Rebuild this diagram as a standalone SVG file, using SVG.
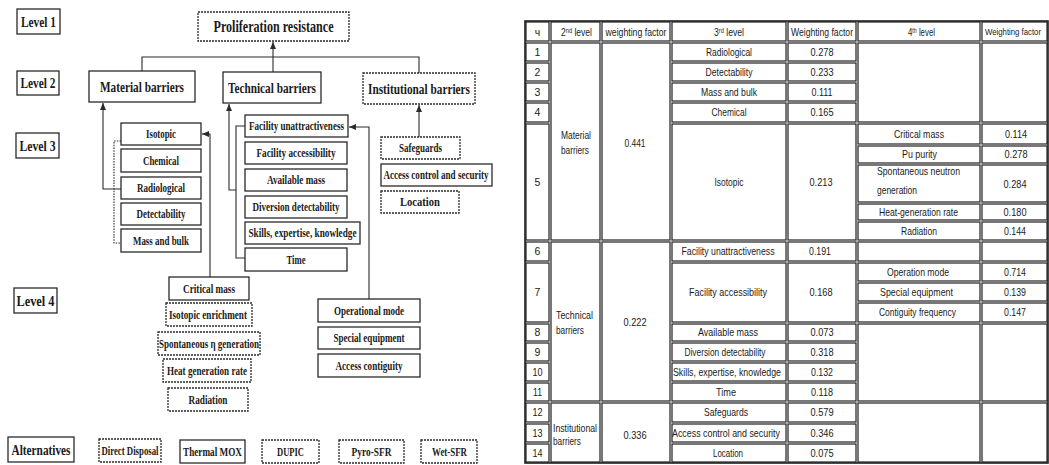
<svg xmlns="http://www.w3.org/2000/svg" width="1049" height="465" viewBox="0 0 1049 465">
<style>
.bx{fill:#fff;stroke:#2a2a2a;stroke-width:1.3}
.dt{stroke-dasharray:2 1}
.t{font-family:"Liberation Serif","Times New Roman",serif;font-weight:bold;fill:#1a1a1a;text-anchor:middle}
.lv{font-size:14px}
.l2{font-size:14.5px}
.l3{font-size:12px}
.cn{fill:none;stroke:#2a2a2a;stroke-width:1.1}
.cd{stroke-dasharray:1.5 1.2}
.tc{fill:none;stroke:#1e1e1e;stroke-width:1.2}
.ts{font-family:"Liberation Sans",Arial,sans-serif;font-size:10.5px;fill:#1a1a1a;text-anchor:middle}
.tl{text-anchor:start}
</style>
<defs>
<marker id="ah" markerUnits="userSpaceOnUse" markerWidth="7" markerHeight="6" refX="7" refY="3" orient="auto">
<path d="M0,0 L7,3 L0,6 z" fill="#2a2a2a"/>
</marker>
</defs>
<rect width="1049" height="465" fill="#fff"/>

<!-- Level labels -->
<g id="level1"><rect class="bx" x="17" y="9" width="43" height="25"/><text class="t lv" x="38.5" y="26.5" textLength="35" lengthAdjust="spacingAndGlyphs">Level 1</text></g>
<g id="level2"><rect class="bx" x="17" y="71" width="42" height="24"/><text class="t lv" x="38" y="88" textLength="35" lengthAdjust="spacingAndGlyphs">Level 2</text></g>
<g id="level3"><rect class="bx" x="16" y="133" width="43" height="25"/><text class="t lv" x="37.5" y="150.5" textLength="36" lengthAdjust="spacingAndGlyphs">Level 3</text></g>
<g id="level4"><rect class="bx" x="14" y="288" width="43" height="25"/><text class="t lv" x="35.5" y="305.5" textLength="38" lengthAdjust="spacingAndGlyphs">Level 4</text></g>
<g id="alternatives"><rect class="bx" x="8" y="437" width="66" height="25"/><text class="t lv" x="41" y="454.5" textLength="59" lengthAdjust="spacingAndGlyphs">Alternatives</text></g>

<!-- Level 1/2 -->
<g id="proliferation-resistance"><rect class="bx dt" x="198" y="12" width="151" height="29"/><text class="t" style="font-size:16px" x="273.5" y="32" textLength="120" lengthAdjust="spacingAndGlyphs">Proliferation resistance</text></g>
<g id="material-barriers"><rect class="bx" x="89" y="71" width="106" height="31"/><text class="t l2" x="142" y="91.5" textLength="84" lengthAdjust="spacingAndGlyphs">Material barriers</text></g>
<g id="technical-barriers"><rect class="bx" x="223" y="72" width="98" height="31"/><text class="t l2" x="272" y="92.5" textLength="88" lengthAdjust="spacingAndGlyphs">Technical barriers</text></g>
<g id="institutional-barriers"><rect class="bx dt" x="363" y="73" width="112" height="31"/><text class="t l2" x="419" y="93.5" textLength="102" lengthAdjust="spacingAndGlyphs">Institutional barriers</text></g>

<!-- Level 3 material -->
<g id="isotopic"><rect class="bx" x="121" y="123" width="80" height="22"/><text class="t l3" x="161" y="138.2" textLength="30" lengthAdjust="spacingAndGlyphs">Isotopic</text></g>
<g id="chemical"><rect class="bx" x="121" y="149" width="80" height="23"/><text class="t l3" x="161" y="164.7" textLength="36" lengthAdjust="spacingAndGlyphs">Chemical</text></g>
<g id="radiological"><rect class="bx" x="121" y="177" width="80" height="22"/><text class="t l3" x="161" y="192.2" textLength="48" lengthAdjust="spacingAndGlyphs">Radiological</text></g>
<g id="detectability"><rect class="bx" x="121" y="203" width="80" height="22"/><text class="t l3" x="161" y="218.2" textLength="49" lengthAdjust="spacingAndGlyphs">Detectability</text></g>
<g id="mass-and-bulk"><rect class="bx" x="121" y="229" width="80" height="23"/><text class="t l3" x="161" y="244.7" textLength="56" lengthAdjust="spacingAndGlyphs">Mass and bulk</text></g>

<!-- Level 3 technical -->
<g id="facility-unattractiveness"><rect class="bx" x="245" y="115" width="103" height="22"/><text class="t l3" x="296.5" y="130.2" textLength="95" lengthAdjust="spacingAndGlyphs">Facility unattractiveness</text></g>
<g id="facility-accessibility"><rect class="bx" x="245" y="142" width="102" height="22"/><text class="t l3" x="296" y="157.2" textLength="79" lengthAdjust="spacingAndGlyphs">Facility accessibility</text></g>
<g id="available-mass"><rect class="bx" x="245" y="169" width="102" height="22"/><text class="t l3" x="296" y="184.2" textLength="58" lengthAdjust="spacingAndGlyphs">Available mass</text></g>
<g id="diversion-detectability"><rect class="bx" x="245" y="196" width="102" height="22"/><text class="t l3" x="296" y="211.2" textLength="87" lengthAdjust="spacingAndGlyphs">Diversion detectability</text></g>
<g id="skills"><rect class="bx" x="245" y="222" width="115" height="22"/><text class="t l3" x="302.5" y="237.2" textLength="108" lengthAdjust="spacingAndGlyphs">Skills, expertise, knowledge</text></g>
<g id="time"><rect class="bx" x="245" y="248" width="102" height="23"/><text class="t l3" x="296" y="263.7" textLength="19" lengthAdjust="spacingAndGlyphs">Time</text></g>

<!-- Level 3 institutional -->
<g id="safeguards"><rect class="bx dt" x="381" y="137" width="79" height="22"/><text class="t l3" x="420.5" y="152.2" textLength="43" lengthAdjust="spacingAndGlyphs">Safeguards</text></g>
<g id="access-control"><rect class="bx" x="381" y="164" width="111" height="22"/><text class="t l3" x="436" y="179.2" textLength="105" lengthAdjust="spacingAndGlyphs">Access control and security</text></g>
<g id="location"><rect class="bx dt" x="381" y="191" width="78" height="22"/><text class="t l3" x="420" y="206.2" textLength="40" lengthAdjust="spacingAndGlyphs">Location</text></g>

<!-- Level 4 material -->
<g id="critical-mass"><rect class="bx" x="169" y="277" width="80" height="23"/><text class="t l3" x="209" y="292.7" textLength="52" lengthAdjust="spacingAndGlyphs">Critical mass</text></g>
<g id="isotopic-enrichment"><rect class="bx dt" x="166" y="303" width="86" height="23"/><text class="t l3" x="208" y="318.7" textLength="78" lengthAdjust="spacingAndGlyphs">Isotopic enrichment</text></g>
<g id="spontaneous-generation"><rect class="bx dt" x="158" y="332" width="102" height="23"/><text class="t l3" x="209" y="347.7" textLength="100" lengthAdjust="spacingAndGlyphs">Spontaneous η generation</text></g>
<g id="heat-generation-rate"><rect class="bx dt" x="163" y="359" width="88" height="23"/><text class="t l3" x="207" y="374.7" textLength="80" lengthAdjust="spacingAndGlyphs">Heat generation rate</text></g>
<g id="radiation"><rect class="bx dt" x="168" y="388" width="80" height="23"/><text class="t l3" x="208" y="403.7" textLength="39" lengthAdjust="spacingAndGlyphs">Radiation</text></g>

<!-- Level 4 technical -->
<g id="operational-mode"><rect class="bx" x="318" y="299" width="102" height="23"/><text class="t l3" x="369" y="314.7" textLength="70" lengthAdjust="spacingAndGlyphs">Operational mode</text></g>
<g id="special-equipment"><rect class="bx" x="318" y="327" width="102" height="22"/><text class="t l3" x="369" y="342.2" textLength="71" lengthAdjust="spacingAndGlyphs">Special equipment</text></g>
<g id="access-contiguity"><rect class="bx" x="318" y="354" width="102" height="23"/><text class="t l3" x="369" y="369.7" textLength="67" lengthAdjust="spacingAndGlyphs">Access contiguity</text></g>

<!-- Alternatives -->
<g id="direct-disposal"><rect class="bx dt" x="99" y="439" width="62" height="23"/><text class="t l3" x="130" y="454.7" textLength="57" lengthAdjust="spacingAndGlyphs">Direct Disposal</text></g>
<g id="thermal-mox"><rect class="bx" x="180" y="440" width="65" height="23"/><text class="t l3" x="212.5" y="455.7" textLength="59" lengthAdjust="spacingAndGlyphs">Thermal MOX</text></g>
<g id="dupic"><rect class="bx dt" x="262" y="440" width="57" height="23"/><text class="t l3" x="290.5" y="455.7" textLength="27" lengthAdjust="spacingAndGlyphs">DUPIC</text></g>
<g id="pyro-sfr"><rect class="bx dt" x="339" y="440" width="65" height="23"/><text class="t l3" x="371.5" y="455.7" textLength="40" lengthAdjust="spacingAndGlyphs">Pyro-SFR</text></g>
<g id="wet-sfr"><rect class="bx dt" x="421" y="440" width="56" height="23"/><text class="t l3" x="449.5" y="455.7" textLength="35" lengthAdjust="spacingAndGlyphs">Wet-SFR</text></g>

<!-- Connectors -->
<g id="connectors">
<path class="cn" d="M142,71 V57 H419 V73"/>
<path class="cn" d="M273,72 V42" marker-end="url(#ah)"/>
<path class="cn" d="M121,189 H103 V103" marker-end="url(#ah)"/>
<path class="cn cd" d="M121,141 H114 V243 H121"/>
<path class="cn" d="M245,126 H236 V258 H245"/>
<path class="cn" d="M236,190 H229 V104" marker-end="url(#ah)"/>
<path class="cn" d="M210,277 V134 H202" marker-end="url(#ah)"/>
<path class="cn" d="M369,299 V127 H349" marker-end="url(#ah)"/>
<path class="cn" d="M419,137 V105" marker-end="url(#ah)"/>
</g>

<!-- Table -->
<g id="table">
<rect x="525" y="21" width="523" height="442" fill="none" stroke="#1e1e1e" stroke-width="1.6"/>
<!-- header -->
<rect class="tc" x="526" y="22" width="23" height="19"/>
<rect class="tc" x="551" y="22" width="49" height="19"/>
<rect class="tc" x="602" y="22" width="68" height="19"/>
<rect class="tc" x="672" y="22" width="114" height="19"/>
<rect class="tc" x="788" y="22" width="68" height="19"/>
<rect class="tc" x="858" y="22" width="122" height="19"/>
<rect class="tc" x="982" y="22" width="65" height="19"/>
<!-- col0 -->
<rect class="tc" x="526" y="43" width="23" height="18"/>
<rect class="tc" x="526" y="63" width="23" height="18"/>
<rect class="tc" x="526" y="83" width="23" height="18"/>
<rect class="tc" x="526" y="103" width="23" height="19"/>
<rect class="tc" x="526" y="124" width="23" height="116"/>
<rect class="tc" x="526" y="242" width="23" height="19"/>
<rect class="tc" x="526" y="263" width="23" height="59"/>
<rect class="tc" x="526" y="324" width="23" height="17"/>
<rect class="tc" x="526" y="343" width="23" height="18"/>
<rect class="tc" x="526" y="363" width="23" height="18"/>
<rect class="tc" x="526" y="383" width="23" height="18"/>
<rect class="tc" x="526" y="403" width="23" height="19"/>
<rect class="tc" x="526" y="424" width="23" height="18"/>
<rect class="tc" x="526" y="444" width="23" height="18"/>
<!-- col1, col2 merged -->
<rect class="tc" x="551" y="43" width="49" height="197"/>
<rect class="tc" x="551" y="242" width="49" height="159"/>
<rect class="tc" x="551" y="403" width="49" height="59"/>
<rect class="tc" x="602" y="43" width="68" height="197"/>
<rect class="tc" x="602" y="242" width="68" height="159"/>
<rect class="tc" x="602" y="403" width="68" height="59"/>
<!-- col3, col4 -->
<rect class="tc" x="672" y="43" width="114" height="18"/><rect class="tc" x="788" y="43" width="68" height="18"/>
<rect class="tc" x="672" y="63" width="114" height="18"/><rect class="tc" x="788" y="63" width="68" height="18"/>
<rect class="tc" x="672" y="83" width="114" height="18"/><rect class="tc" x="788" y="83" width="68" height="18"/>
<rect class="tc" x="672" y="103" width="114" height="19"/><rect class="tc" x="788" y="103" width="68" height="19"/>
<rect class="tc" x="672" y="124" width="114" height="116"/><rect class="tc" x="788" y="124" width="68" height="116"/>
<rect class="tc" x="672" y="242" width="114" height="19"/><rect class="tc" x="788" y="242" width="68" height="19"/>
<rect class="tc" x="672" y="263" width="114" height="59"/><rect class="tc" x="788" y="263" width="68" height="59"/>
<rect class="tc" x="672" y="324" width="114" height="17"/><rect class="tc" x="788" y="324" width="68" height="17"/>
<rect class="tc" x="672" y="343" width="114" height="18"/><rect class="tc" x="788" y="343" width="68" height="18"/>
<rect class="tc" x="672" y="363" width="114" height="18"/><rect class="tc" x="788" y="363" width="68" height="18"/>
<rect class="tc" x="672" y="383" width="114" height="18"/><rect class="tc" x="788" y="383" width="68" height="18"/>
<rect class="tc" x="672" y="403" width="114" height="19"/><rect class="tc" x="788" y="403" width="68" height="19"/>
<rect class="tc" x="672" y="424" width="114" height="18"/><rect class="tc" x="788" y="424" width="68" height="18"/>
<rect class="tc" x="672" y="444" width="114" height="18"/><rect class="tc" x="788" y="444" width="68" height="18"/>
<!-- col5, col6 -->
<rect class="tc" x="858" y="43" width="122" height="79"/><rect class="tc" x="982" y="43" width="65" height="79"/>
<rect class="tc" x="858" y="124" width="122" height="20"/><rect class="tc" x="982" y="124" width="65" height="20"/>
<rect class="tc" x="858" y="146" width="122" height="17"/><rect class="tc" x="982" y="146" width="65" height="17"/>
<rect class="tc" x="858" y="165" width="122" height="37"/><rect class="tc" x="982" y="165" width="65" height="37"/>
<rect class="tc" x="858" y="204" width="122" height="16"/><rect class="tc" x="982" y="204" width="65" height="16"/>
<rect class="tc" x="858" y="222" width="122" height="18"/><rect class="tc" x="982" y="222" width="65" height="18"/>
<rect class="tc" x="858" y="242" width="122" height="19"/><rect class="tc" x="982" y="242" width="65" height="19"/>
<rect class="tc" x="858" y="263" width="122" height="18"/><rect class="tc" x="982" y="263" width="65" height="18"/>
<rect class="tc" x="858" y="283" width="122" height="18"/><rect class="tc" x="982" y="283" width="65" height="18"/>
<rect class="tc" x="858" y="303" width="122" height="19"/><rect class="tc" x="982" y="303" width="65" height="19"/>
<rect class="tc" x="858" y="324" width="122" height="77"/><rect class="tc" x="982" y="324" width="65" height="77"/>
<rect class="tc" x="858" y="403" width="122" height="59"/><rect class="tc" x="982" y="403" width="65" height="59"/>

<!-- header text -->
<text class="ts" x="537.5" y="35.5">ч</text>
<text class="ts" x="576.5" y="35.5" textLength="31" lengthAdjust="spacingAndGlyphs">2<tspan font-size="7" dy="-3">nd</tspan><tspan dy="3"> level</tspan></text>
<text class="ts" x="636" y="35.5" textLength="61" lengthAdjust="spacingAndGlyphs">weighting factor</text>
<text class="ts" x="729" y="35.5" textLength="30" lengthAdjust="spacingAndGlyphs">3<tspan font-size="7" dy="-3">rd</tspan><tspan dy="3"> level</tspan></text>
<text class="ts" x="822" y="35.5" textLength="62" lengthAdjust="spacingAndGlyphs">Weighting factor</text>
<text class="ts" x="921.5" y="35.5" textLength="27" lengthAdjust="spacingAndGlyphs">4<tspan font-size="7" dy="-3">th</tspan><tspan dy="3"> level</tspan></text>
<text class="ts" style="font-size:9px" x="1013" y="35" textLength="56" lengthAdjust="spacingAndGlyphs">Weighting factor</text>

<!-- row numbers -->
<text class="ts" x="537.5" y="55.8">1</text>
<text class="ts" x="537.5" y="75.8">2</text>
<text class="ts" x="537.5" y="95.8">3</text>
<text class="ts" x="537.5" y="116.3">4</text>
<text class="ts" x="537.5" y="185.8">5</text>
<text class="ts" x="537.5" y="255.3">6</text>
<text class="ts" x="537.5" y="296.3">7</text>
<text class="ts" x="537.5" y="336.3">8</text>
<text class="ts" x="537.5" y="355.8">9</text>
<text class="ts" x="537.5" y="375.8" textLength="10" lengthAdjust="spacingAndGlyphs">10</text>
<text class="ts" x="537.5" y="395.8" textLength="9" lengthAdjust="spacingAndGlyphs">11</text>
<text class="ts" x="537.5" y="416.3" textLength="10" lengthAdjust="spacingAndGlyphs">12</text>
<text class="ts" x="537.5" y="436.8" textLength="10" lengthAdjust="spacingAndGlyphs">13</text>
<text class="ts" x="537.5" y="456.8" textLength="10" lengthAdjust="spacingAndGlyphs">14</text>

<!-- 2nd level -->
<text class="ts tl" x="561" y="139" textLength="30" lengthAdjust="spacingAndGlyphs">Material</text>
<text class="ts tl" x="561" y="154" textLength="28" lengthAdjust="spacingAndGlyphs">barriers</text>
<text class="ts tl" x="556" y="319" textLength="37" lengthAdjust="spacingAndGlyphs">Technical</text>
<text class="ts tl" x="556" y="334" textLength="28" lengthAdjust="spacingAndGlyphs">barriers</text>
<text class="ts tl" x="553" y="432" textLength="44" lengthAdjust="spacingAndGlyphs">Institutional</text>
<text class="ts tl" x="553" y="444.5" textLength="28" lengthAdjust="spacingAndGlyphs">barriers</text>
<text class="ts" x="635" y="147" textLength="21" lengthAdjust="spacingAndGlyphs">0.441</text>
<text class="ts" x="635" y="326" textLength="23" lengthAdjust="spacingAndGlyphs">0.222</text>
<text class="ts" x="635" y="439" textLength="23" lengthAdjust="spacingAndGlyphs">0.336</text>

<!-- 3rd level -->
<text class="ts" x="729" y="55.8" textLength="46" lengthAdjust="spacingAndGlyphs">Radiological</text>
<text class="ts" x="729" y="75.8" textLength="47" lengthAdjust="spacingAndGlyphs">Detectability</text>
<text class="ts" x="729" y="95.8" textLength="56" lengthAdjust="spacingAndGlyphs">Mass and bulk</text>
<text class="ts" x="729" y="116.3" textLength="35" lengthAdjust="spacingAndGlyphs">Chemical</text>
<text class="ts" x="729" y="185.8" textLength="29" lengthAdjust="spacingAndGlyphs">Isotopic</text>
<text class="ts" x="728" y="255.3" textLength="93" lengthAdjust="spacingAndGlyphs">Facility unattractiveness</text>
<text class="ts" x="728" y="296.3" textLength="78" lengthAdjust="spacingAndGlyphs">Facility accessibility</text>
<text class="ts" x="728" y="336.3" textLength="60" lengthAdjust="spacingAndGlyphs">Available mass</text>
<text class="ts" x="725" y="355.8" textLength="81" lengthAdjust="spacingAndGlyphs">Diversion detectability</text>
<text class="ts" x="727" y="375.8" textLength="108" lengthAdjust="spacingAndGlyphs">Skills, expertise, knowledge</text>
<text class="ts" x="726" y="395.8" textLength="20" lengthAdjust="spacingAndGlyphs">Time</text>
<text class="ts" x="726" y="416.3" textLength="44" lengthAdjust="spacingAndGlyphs">Safeguards</text>
<text class="ts" x="726" y="436.8" textLength="108" lengthAdjust="spacingAndGlyphs">Access control and security</text>
<text class="ts" x="728" y="456.8" textLength="30" lengthAdjust="spacingAndGlyphs">Location</text>

<!-- 3rd level weights -->
<text class="ts" x="822" y="55.8" textLength="23" lengthAdjust="spacingAndGlyphs">0.278</text>
<text class="ts" x="822" y="75.8" textLength="23" lengthAdjust="spacingAndGlyphs">0.233</text>
<text class="ts" x="822" y="95.8" textLength="21" lengthAdjust="spacingAndGlyphs">0.111</text>
<text class="ts" x="822" y="116.3" textLength="23" lengthAdjust="spacingAndGlyphs">0.165</text>
<text class="ts" x="821" y="185.8" textLength="23" lengthAdjust="spacingAndGlyphs">0.213</text>
<text class="ts" x="820" y="255.3" textLength="22" lengthAdjust="spacingAndGlyphs">0.191</text>
<text class="ts" x="821" y="296.3" textLength="23" lengthAdjust="spacingAndGlyphs">0.168</text>
<text class="ts" x="822" y="336.3" textLength="23" lengthAdjust="spacingAndGlyphs">0.073</text>
<text class="ts" x="822" y="355.8" textLength="23" lengthAdjust="spacingAndGlyphs">0.318</text>
<text class="ts" x="822" y="375.8" textLength="22" lengthAdjust="spacingAndGlyphs">0.132</text>
<text class="ts" x="822" y="395.8" textLength="22" lengthAdjust="spacingAndGlyphs">0.118</text>
<text class="ts" x="822" y="416.3" textLength="23" lengthAdjust="spacingAndGlyphs">0.579</text>
<text class="ts" x="822" y="436.8" textLength="23" lengthAdjust="spacingAndGlyphs">0.346</text>
<text class="ts" x="822" y="456.8" textLength="23" lengthAdjust="spacingAndGlyphs">0.075</text>

<!-- 4th level -->
<text class="ts" x="919" y="138" textLength="50" lengthAdjust="spacingAndGlyphs">Critical mass</text>
<text class="ts" x="919.5" y="158.3" textLength="35" lengthAdjust="spacingAndGlyphs">Pu purity</text>
<text class="ts tl" x="877" y="174.5" textLength="83" lengthAdjust="spacingAndGlyphs">Spontaneous neutron</text>
<text class="ts tl" x="877" y="193.5" textLength="40" lengthAdjust="spacingAndGlyphs">generation</text>
<text class="ts" x="918.5" y="215.8" textLength="79" lengthAdjust="spacingAndGlyphs">Heat-generation rate</text>
<text class="ts" x="919" y="235" textLength="36" lengthAdjust="spacingAndGlyphs">Radiation</text>
<text class="ts" x="918" y="276" textLength="62" lengthAdjust="spacingAndGlyphs">Operation mode</text>
<text class="ts" x="916.5" y="296" textLength="73" lengthAdjust="spacingAndGlyphs">Special equipment</text>
<text class="ts" x="917.5" y="316.3" textLength="77" lengthAdjust="spacingAndGlyphs">Contiguity frequency</text>

<!-- 4th level weights -->
<text class="ts" x="1016" y="138" textLength="22" lengthAdjust="spacingAndGlyphs">0.114</text>
<text class="ts" x="1016" y="158.3" textLength="23" lengthAdjust="spacingAndGlyphs">0.278</text>
<text class="ts" x="1015" y="187.5" textLength="23" lengthAdjust="spacingAndGlyphs">0.284</text>
<text class="ts" x="1015" y="215.8" textLength="23" lengthAdjust="spacingAndGlyphs">0.180</text>
<text class="ts" x="1015" y="235" textLength="22" lengthAdjust="spacingAndGlyphs">0.144</text>
<text class="ts" x="1015" y="276" textLength="22" lengthAdjust="spacingAndGlyphs">0.714</text>
<text class="ts" x="1015" y="296" textLength="22" lengthAdjust="spacingAndGlyphs">0.139</text>
<text class="ts" x="1015" y="316.3" textLength="22" lengthAdjust="spacingAndGlyphs">0.147</text>
</g>
</svg>
